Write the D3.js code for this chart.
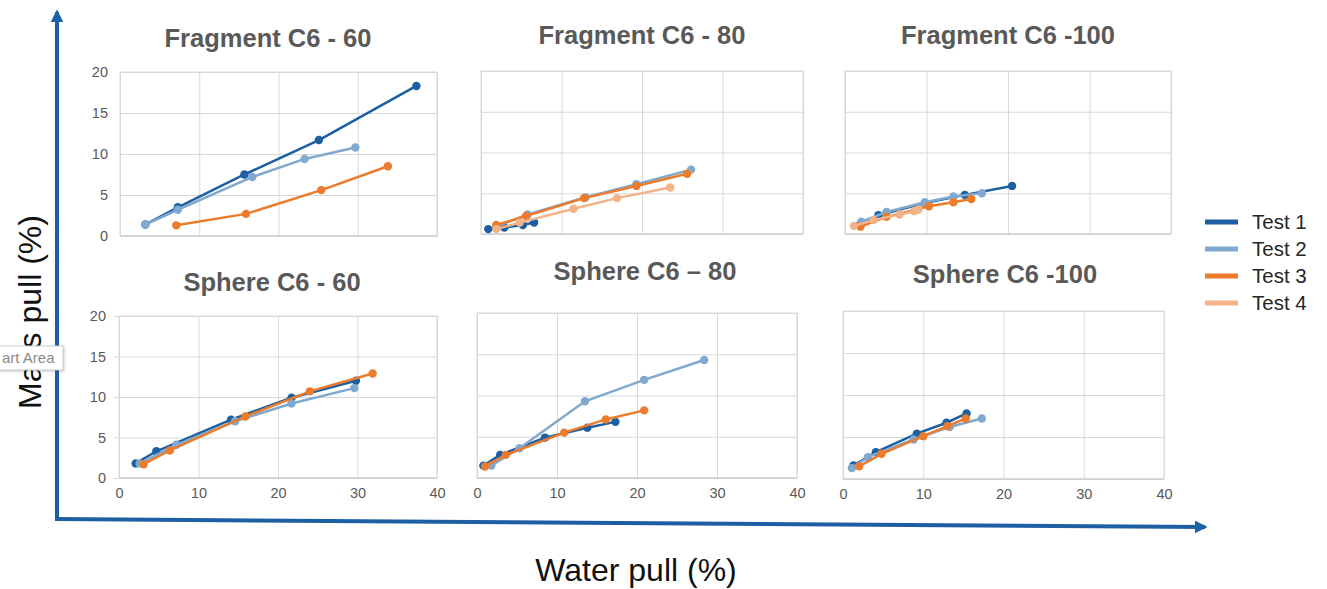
<!DOCTYPE html>
<html>
<head>
<meta charset="utf-8">
<script src="https://cdn.jsdelivr.net/npm/d3@7"></script>
<style>
  body { margin: 0; background: #fff; }
  svg { display: block; font-family: "Liberation Sans", Arial, sans-serif; }
</style>
</head>
<body>
<svg id="chart"></svg>
<script>
// Constant Values
const width = 1327;
const height = 589;

// Series names and colours
const seriesNames = ["Test 1", "Test 2", "Test 3", "Test 4"];
const seriesColors = ["#1c5fa2", "#80a9cf", "#ed7b2c", "#f4b387"];

// Axis ticks
const xTicks = [0, 10, 20, 30, 40];
const yTicks = [0, 5, 10, 15, 20];

// Panel titles
const titles = ["Fragment C6 - 60", "Fragment C6 - 80", "Fragment C6 -100",
                "Sphere C6 - 60", "Sphere C6 \u2013 80", "Sphere C6 -100"];

// Data: [water pull %, mass pull %] per test, one array per panel
const frag60 = [
    [[3.2, 1.4], [7.3, 3.5], [15.7, 7.5], [25.1, 11.7], [37.4, 18.3]],
    [[3.2, 1.4], [7.3, 3.2], [16.7, 7.2], [23.3, 9.4], [29.7, 10.8]],
    [[7.1, 1.3], [15.9, 2.7], [25.4, 5.6], [33.8, 8.5]],
    []
];
const frag80 = [
    [[0.9, 0.6], [2.9, 0.8], [5.2, 1.1], [6.6, 1.4]],
    [[1.9, 0.9], [5.8, 2.4], [13.0, 4.5], [19.3, 6.1], [26.1, 7.9]],
    [[1.9, 1.1], [5.6, 2.2], [12.8, 4.4], [19.3, 5.9], [25.6, 7.4]],
    [[1.9, 0.6], [4.8, 1.4], [11.5, 3.1], [16.9, 4.4], [23.5, 5.7]]
];
const frag100 = [
    [[1.8, 1.1], [4.1, 2.3], [9.8, 3.8], [14.7, 4.8], [20.5, 5.9]],
    [[2.0, 1.5], [5.1, 2.7], [9.8, 3.9], [13.3, 4.6], [16.8, 5.0]],
    [[1.9, 0.9], [5.1, 2.1], [10.3, 3.4], [13.3, 3.9], [15.5, 4.3]],
    [[1.1, 1.0], [3.5, 1.7], [6.7, 2.4], [8.5, 2.8], [9.0, 3.0]]
];
const sphere60 = [
    [[2.1, 1.8], [4.7, 3.3], [14.1, 7.2], [21.7, 9.9], [29.8, 12.0]],
    [[2.6, 1.8], [7.2, 4.1], [14.6, 7.0], [21.7, 9.2], [29.6, 11.1]],
    [[3.1, 1.7], [6.4, 3.4], [15.9, 7.6], [24.0, 10.7], [31.9, 12.9]],
    []
];
const sphere80 = [
    [[0.8, 1.5], [2.9, 2.8], [8.5, 4.9], [13.8, 6.1], [17.3, 6.8]],
    [[1.8, 1.5], [5.3, 3.6], [13.5, 9.3], [20.9, 11.9], [28.4, 14.3]],
    [[1.0, 1.4], [3.6, 2.8], [10.9, 5.5], [16.1, 7.1], [20.9, 8.2]],
    []
];
const sphere100 = [
    [[1.3, 1.6], [4.1, 3.2], [9.2, 5.4], [12.9, 6.7], [15.4, 7.8]],
    [[1.1, 1.3], [3.1, 2.6], [8.8, 4.7], [13.3, 6.2], [17.3, 7.2]],
    [[2.0, 1.5], [4.8, 3.0], [10.0, 5.1], [13.0, 6.3], [15.3, 7.2]],
    []
];

// Panel layout (plot area boxes)
const panels = [
    { data: frag60,    x0: 120, x1: 437,  y0: 72,  y1: 236, showX: false, showY: true,  tx: 268,  ty: 47 },
    { data: frag80,    x0: 481, x1: 803,  y0: 71,  y1: 234, showX: false, showY: false, tx: 642,  ty: 44 },
    { data: frag100,   x0: 845, x1: 1171, y0: 71,  y1: 234, showX: false, showY: false, tx: 1008, ty: 44 },
    { data: sphere60,  x0: 119, x1: 437,  y0: 316, y1: 478, showX: true,  showY: true,  tx: 272,  ty: 291 },
    { data: sphere80,  x0: 477, x1: 797,  y0: 313, y1: 478, showX: true,  showY: false, tx: 645,  ty: 280 },
    { data: sphere100, x0: 843, x1: 1164, y0: 311, y1: 479, showX: true,  showY: false, tx: 1005, ty: 283 }
];

const svg = d3.select("#chart")
    .attr("width", width)
    .attr("height", height);

// Big arrows framing the grid
const arrowColor = "#1c5fa2";
const defs = svg.append("defs");
defs.append("marker")
    .attr("id", "arrow")
    .attr("viewBox", "0 0 10 10")
    .attr("refX", 8).attr("refY", 5)
    .attr("markerWidth", 3.2).attr("markerHeight", 3.2)
    .attr("orient", "auto")
    .append("path")
    .attr("d", "M0,0 L10,5 L0,10 Z")
    .attr("fill", arrowColor);

svg.append("path")
    .attr("d", "M57,519 L57,12")
    .attr("stroke", arrowColor)
    .attr("stroke-width", 4)
    .attr("fill", "none")
    .attr("marker-end", "url(#arrow)");

svg.append("path")
    .attr("d", "M55,519 L1205,527")
    .attr("stroke", arrowColor)
    .attr("stroke-width", 4)
    .attr("fill", "none")
    .attr("marker-end", "url(#arrow)");

// Axis titles
svg.append("text")
    .attr("x", 636).attr("y", 581)
    .attr("text-anchor", "middle")
    .attr("font-size", 32)
    .attr("fill", "#111")
    .text("Water pull (%)");

svg.append("text")
    .attr("transform", "translate(41,312) rotate(-90)")
    .attr("text-anchor", "middle")
    .attr("font-size", 32)
    .attr("fill", "#111")
    .text("Mass pull (%)");

// Draw each panel
panels.forEach(function (p, i) {
    const xScale = d3.scaleLinear().domain([0, 40]).range([p.x0, p.x1]);
    const yScale = d3.scaleLinear().domain([0, 20]).range([p.y1, p.y0]);
    const g = svg.append("g");

    // Gridlines
    const xGrid = d3.axisBottom(xScale).tickValues(xTicks).tickSize(-(p.y1 - p.y0)).tickFormat("");
    const yGrid = d3.axisLeft(yScale).tickValues(yTicks).tickSize(-(p.x1 - p.x0)).tickFormat("");
    g.append("g").attr("transform", `translate(0,${p.y1})`).call(xGrid)
        .call(s => s.select(".domain").remove())
        .selectAll("line").attr("stroke", "#d9d9d9");
    g.append("g").attr("transform", `translate(${p.x0},0)`).call(yGrid)
        .call(s => s.select(".domain").remove())
        .selectAll("line").attr("stroke", "#d9d9d9");

    g.append("rect")
        .attr("x", p.x0).attr("y", p.y0)
        .attr("width", p.x1 - p.x0).attr("height", p.y1 - p.y0)
        .attr("fill", "none")
        .attr("stroke", "#d9d9d9");
    g.append("line")
        .attr("x1", p.x0).attr("x2", p.x1)
        .attr("y1", p.y1).attr("y2", p.y1)
        .attr("stroke", "#c8c8c8");

    // Tick labels
    if (p.showY) {
        const yAxis = d3.axisLeft(yScale).tickValues(yTicks).tickSize(i === 3 ? 5 : 0).tickPadding(i === 3 ? 8 : 12);
        g.append("g").attr("transform", `translate(${p.x0},0)`).call(yAxis)
            .call(s => s.select(".domain").attr("stroke", "#d9d9d9"))
            .call(s => s.selectAll("line").attr("stroke", "#d9d9d9"))
            .selectAll("text")
            .attr("font-size", 14.5)
            .attr("fill", "#595959")
            .attr("font-family", "'Liberation Sans', Arial, sans-serif");
    }
    if (p.showX) {
        const xAxis = d3.axisBottom(xScale).tickValues(xTicks).tickSize(0).tickPadding(10);
        g.append("g").attr("transform", `translate(0,${p.y1})`).call(xAxis)
            .call(s => s.select(".domain").remove())
            .selectAll("text")
            .attr("font-size", 14.5)
            .attr("fill", "#595959")
            .attr("font-family", "'Liberation Sans', Arial, sans-serif");
    }

    // Title
    g.append("text")
        .attr("x", p.tx).attr("y", p.ty)
        .attr("text-anchor", "middle")
        .attr("font-size", 25.5)
        .attr("font-weight", "bold")
        .attr("fill", "#595959")
        .text(titles[i]);

    // Lines and points
    const line = d3.line().x(d => xScale(d[0])).y(d => yScale(d[1]));
    p.data.forEach(function (series, k) {
        if (!series.length) return;
        g.append("path")
            .datum(series)
            .attr("d", line)
            .attr("fill", "none")
            .attr("stroke", seriesColors[k])
            .attr("stroke-width", 2.5);
        g.selectAll(".pt" + k)
            .data(series)
            .enter()
            .append("circle")
            .attr("class", "pt" + k)
            .attr("cx", d => xScale(d[0]))
            .attr("cy", d => yScale(d[1]))
            .attr("r", 4.2)
            .attr("fill", seriesColors[k]);
    });
});

// Legend
const legend = svg.append("g");
seriesNames.forEach(function (name, k) {
    const y = 222 + k * 27;
    legend.append("line")
        .attr("x1", 1205).attr("x2", 1238)
        .attr("y1", y).attr("y2", y)
        .attr("stroke", seriesColors[k])
        .attr("stroke-width", 5);
    legend.append("text")
        .attr("x", 1252).attr("y", y + 7)
        .attr("font-size", 20.5)
        .attr("fill", "#262626")
        .text(name);
});

// Leftover hover tip at the page edge, as it shows in the picture
const tip = svg.append("g");
tip.append("rect")
    .attr("x", -20).attr("y", 346)
    .attr("width", 83).attr("height", 24)
    .attr("fill", "#fff")
    .attr("stroke", "#cfcfcf")
    .style("filter", "drop-shadow(1px 1px 1px rgba(0,0,0,0.2))");
tip.append("text")
    .attr("x", 2).attr("y", 363)
    .attr("font-size", 15)
    .attr("fill", "#8a8a8a")
    .text("art Area");
</script>
</body>
</html>
